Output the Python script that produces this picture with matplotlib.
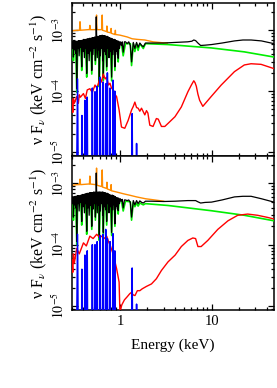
import numpy as np
import matplotlib
matplotlib.use("Agg")
import matplotlib.pyplot as plt
from matplotlib.ticker import LogLocator, NullFormatter, FixedLocator, FixedFormatter

plt.rcParams['font.family'] = ['Liberation Serif', 'DejaVu Serif']
plt.rcParams['mathtext.fontset'] = 'stix'

# ---------------- data (energies in keV, flux as log10 of nu F_nu) ----------------
# ---- top panel ----
top_black_E = [0.300, 0.304, 0.308, 0.311, 0.315, 0.320, 0.325, 0.330, 0.334, 0.338, 0.343,
               0.348, 0.353, 0.359, 0.365, 0.371, 0.377, 0.383, 0.389, 0.396, 0.403, 0.410,
               0.417, 0.424, 0.429, 0.434, 0.440, 0.447, 0.454, 0.462, 0.470, 0.478, 0.486,
               0.493, 0.500, 0.508, 0.516, 0.524, 0.532, 0.540, 0.548, 0.552, 0.557, 0.566,
               0.575, 0.583, 0.590, 0.596, 0.603, 0.612, 0.620, 0.630, 0.640, 0.650, 0.654,
               0.659, 0.668, 0.678, 0.688, 0.698, 0.708, 0.717, 0.727, 0.738, 0.749, 0.760,
               0.772, 0.785, 0.798, 0.812, 0.826, 0.840, 0.853, 0.866, 0.875, 0.882, 0.895,
               0.910, 0.925, 0.940, 0.950, 0.958, 0.970, 0.990, 1.010, 1.040, 1.060, 1.086,
               1.120, 1.150, 1.200, 1.250, 1.300, 1.340, 1.400, 1.456, 1.520, 1.580, 1.650,
               1.730, 1.800, 1.900, 2.200, 3.000, 4.000, 5.500, 6.100, 6.400, 6.700, 7.100,
               7.600, 8.500, 10.00, 13.00, 17.80, 22.00, 27.00, 35.00, 48.00]
top_black_F = [-3.19, -3.30, -3.19, -3.44, -3.19, -3.32, -3.18, -3.38, -3.18, -3.96, -3.18,
               -3.30, -3.17, -3.42, -3.17, -3.28, -3.17, -3.60, -3.16, -3.35, -3.15, -3.45,
               -3.15, -3.30, -3.15, -3.71, -3.14, -3.38, -3.14, -3.50, -3.13, -3.34, -3.13,
               -3.66, -3.12, -3.40, -3.12, -3.30, -3.11, -3.50, -3.10, -2.78, -3.10, -3.45,
               -3.10, -3.32, -3.10, -3.87, -3.09, -3.42, -3.09, -3.30, -3.08, -3.50, -3.09,
               -3.77, -3.09, -3.35, -3.09, -3.40, -3.10, -3.60, -3.10, -3.30, -3.11, -3.45,
               -3.12, -3.35, -3.13, -3.77, -3.14, -3.40, -3.15, -3.32, -3.15, -3.60, -3.16,
               -3.35, -3.17, -3.40, -3.18, -3.46, -3.18, -3.30, -3.19, -3.25, -3.19, -3.36,
               -3.19, -3.19, -3.22, -3.19, -3.25, -3.52, -3.20, -3.30, -3.20, -3.28, -3.21,
               -3.25, -3.27, -3.21, -3.21, -3.21, -3.20, -3.19, -3.18, -3.16, -3.17, -3.21,
               -3.25, -3.245, -3.235, -3.21, -3.175, -3.16, -3.16, -3.175, -3.22]

top_green_E = [0.300, 0.305, 0.311, 0.318, 0.325, 0.331, 0.338, 0.346, 0.355, 0.370, 0.376,
               0.383, 0.392, 0.405, 0.420, 0.427, 0.434, 0.446, 0.460, 0.480, 0.493, 0.505,
               0.530, 0.540, 0.560, 0.585, 0.596, 0.610, 0.640, 0.659, 0.672, 0.700, 0.717,
               0.735, 0.790, 0.812, 0.830, 0.862, 0.882, 0.900, 0.940, 0.958, 0.980, 1.040,
               1.086, 1.150, 1.300, 1.340, 1.400, 1.456, 1.520, 1.580, 1.650, 1.800, 1.900,
               3.350, 9.900, 22.80, 48.00]
top_green_F = [-3.21, -3.28, -3.50, -3.26, -3.21, -3.34, -4.02, -3.30, -3.20, -3.20, -3.30,
               -3.66, -3.24, -3.20, -3.20, -3.45, -3.77, -3.22, -3.20, -3.20, -3.72, -3.21,
               -3.20, -3.56, -3.20, -3.20, -3.93, -3.20, -3.20, -3.83, -3.20, -3.20, -3.66,
               -3.20, -3.20, -3.83, -3.20, -3.20, -3.66, -3.21, -3.21, -3.52, -3.21, -3.22,
               -3.42, -3.22, -3.22, -3.58, -3.22, -3.35, -3.22, -3.33, -3.22, -3.30, -3.22,
               -3.235, -3.29, -3.355, -3.44]

top_orange_E = [0.300, 0.340, 0.362, 0.367, 0.372, 0.450, 0.465, 0.470, 0.475, 0.545, 0.550,
                0.556, 0.562, 0.630, 0.635, 0.641, 0.647, 0.710, 0.716, 0.721, 0.727, 0.790,
                0.796, 0.802, 0.808, 0.880, 0.886, 0.892, 0.898, 1.000, 1.200, 1.360, 1.550,
                1.870, 2.300, 2.900, 3.300]
top_orange_F = [-3.01, -3.00, -3.00, -2.86, -3.00, -2.99, -2.99, -2.92, -2.99, -2.99, -2.99,
                -2.75, -2.99, -2.99, -2.99, -2.75, -3.00, -3.02, -3.02, -2.93, -3.03, -3.04,
                -3.04, -2.97, -3.05, -3.07, -3.07, -3.00, -3.07, -3.08, -3.11, -3.14, -3.15,
                -3.16, -3.19, -3.205, -3.21]

top_red_E = [0.300, 0.306, 0.311, 0.318, 0.338, 0.352, 0.360, 0.370, 0.400, 0.420, 0.440,
             0.470, 0.500, 0.535, 0.560, 0.606, 0.630, 0.659, 0.690, 0.717, 0.750, 0.779,
             0.810, 0.846, 0.880, 0.920, 0.980, 1.040, 1.130, 1.230, 1.340, 1.400, 1.456,
             1.520, 1.580, 1.650, 1.720, 1.870, 1.950, 2.020, 2.120, 2.300, 2.420, 2.500,
             2.620, 2.840, 3.090, 3.350, 3.990, 4.680, 5.520, 6.020, 6.400, 6.600, 6.820,
             7.100, 7.410, 8.030, 9.890, 12.74, 17.77, 22.78, 26.98, 34.70, 48.00]
top_red_F = [-4.15, -4.35, -4.12, -4.20, -4.09, -4.20, -4.06, -4.10, -4.04, -4.12, -3.98,
             -3.96, -4.02, -3.90, -3.95, -3.79, -3.85, -3.72, -3.80, -3.77, -3.90, -3.87,
             -3.95, -3.98, -4.05, -4.09, -4.31, -4.59, -4.61, -4.48, -4.31, -4.25, -4.18,
             -4.27, -4.28, -4.33, -4.28, -4.39, -4.32, -4.36, -4.56, -4.58, -4.50, -4.45,
             -4.46, -4.58, -4.58, -4.53, -4.42, -4.26, -4.01, -3.90, -3.83, -3.86, -3.92,
             -4.05, -4.15, -4.25, -4.09, -3.90, -3.68, -3.57, -3.55, -3.56, -3.63]

top_blue_E = [0.335, 0.345, 0.352, 0.380, 0.385, 0.390, 0.410, 0.415, 0.420, 0.435, 0.440,
              0.446, 0.493, 0.500, 0.507, 0.528, 0.535, 0.542, 0.558, 0.565, 0.572, 0.602,
              0.610, 0.618, 0.647, 0.655, 0.663, 0.692, 0.700, 0.708, 0.722, 0.730, 0.738,
              0.770, 0.780, 0.790, 0.830, 0.840, 0.850, 0.872, 0.880, 0.888, 1.340, 1.360,
              1.380, 1.500, 1.520, 1.540]
top_blue_F = [-6, -3.80, -6, -6, -4.40, -6, -6, -4.15, -6, -6, -4.10,
              -6, -6, -3.95, -6, -6, -4.01, -6, -6, -3.92, -6, -6,
              -3.77, -6, -6, -3.85, -6, -6, -3.88, -6, -6, -3.70, -6,
              -6, -3.95, -6, -6, -3.82, -6, -6, -4.00, -6, -6, -4.37,
              -6, -6, -4.86, -6]

# ---- bottom panel ----
bot_black_E = top_black_E
bot_black_F = [-3.22, -3.33, -3.22, -3.55, -3.22, -3.35, -3.21, -3.40, -3.21, -3.945, -3.20,
               -3.33, -3.20, -3.45, -3.20, -3.31, -3.19, -3.62, -3.18, -3.38, -3.18, -3.48,
               -3.17, -3.33, -3.17, -3.78, -3.16, -3.40, -3.16, -3.52, -3.15, -3.36, -3.15,
               -3.70, -3.15, -3.42, -3.14, -3.33, -3.14, -3.55, -3.14, -2.83, -3.14, -3.48,
               -3.14, -3.35, -3.14, -3.88, -3.14, -3.45, -3.14, -3.33, -3.14, -3.52, -3.14,
               -3.80, -3.15, -3.38, -3.15, -3.43, -3.16, -3.62, -3.16, -3.33, -3.17, -3.48,
               -3.18, -3.38, -3.19, -3.80, -3.19, -3.43, -3.20, -3.35, -3.21, -3.66, -3.22,
               -3.38, -3.23, -3.42, -3.24, -3.445, -3.24, -3.33, -3.25, -3.29, -3.26, -3.40,
               -3.27, -3.27, -3.28, -3.27, -3.31, -3.55, -3.28, -3.35, -3.28, -3.33, -3.285,
               -3.31, -3.32, -3.29, -3.29, -3.295, -3.29, -3.28, -3.28, -3.28, -3.28, -3.30,
               -3.32, -3.31, -3.305, -3.27, -3.22, -3.21, -3.21, -3.25, -3.305]

bot_green_E = top_green_E
bot_green_F = [-3.25, -3.32, -3.60, -3.30, -3.25, -3.38, -4.00, -3.33, -3.24, -3.24, -3.33,
               -3.68, -3.27, -3.24, -3.24, -3.50, -3.83, -3.26, -3.24, -3.24, -3.75, -3.25,
               -3.25, -3.60, -3.25, -3.25, -3.93, -3.25, -3.26, -3.85, -3.26, -3.26, -3.68,
               -3.26, -3.27, -3.85, -3.27, -3.27, -3.70, -3.28, -3.28, -3.50, -3.28, -3.29,
               -3.45, -3.29, -3.30, -3.60, -3.31, -3.38, -3.32, -3.37, -3.32, -3.35, -3.33,
               -3.36, -3.445, -3.52, -3.61]

bot_orange_E = [0.300, 0.340, 0.362, 0.367, 0.372, 0.450, 0.465, 0.470, 0.475, 0.545, 0.550,
                0.556, 0.562, 0.630, 0.635, 0.641, 0.647, 0.710, 0.716, 0.721, 0.727, 0.790,
                0.796, 0.802, 0.808, 0.920, 1.100, 1.300, 1.520, 1.900, 2.400, 3.000]
bot_orange_F = [-3.03, -3.02, -3.02, -2.93, -3.02, -3.01, -3.01, -2.88, -3.01, -3.02, -3.02,
                -2.75, -3.03, -3.05, -3.05, -2.78, -3.06, -3.08, -3.08, -2.98, -3.09, -3.11,
                -3.11, -3.02, -3.12, -3.14, -3.17, -3.195, -3.22, -3.25, -3.27, -3.29]

bot_red_E = [0.300, 0.306, 0.311, 0.318, 0.338, 0.360, 0.400, 0.430, 0.470, 0.510, 0.558,
             0.600, 0.630, 0.670, 0.717, 0.750, 0.780, 0.850, 0.920, 0.980, 1.000, 1.050,
             1.120, 1.200, 1.280, 1.330, 1.400, 1.460, 1.550, 1.650, 1.750, 1.950, 2.210,
             2.500, 2.840, 3.350, 4.000, 4.680, 5.520, 6.250, 6.700, 7.100, 7.700, 9.100,
             11.70, 15.10, 19.30, 24.80, 31.80, 41.00, 48.00]
bot_red_F = [-4.25, -4.45, -4.15, -4.30, -4.06, -4.15, -3.97, -4.02, -3.86, -3.90, -3.83,
             -3.88, -3.86, -3.90, -3.86, -3.95, -4.00, -4.17, -4.39, -4.61, -5.10, -4.98,
             -4.90, -4.85, -4.80, -4.78, -4.82, -4.83, -4.75, -4.75, -4.72, -4.68, -4.64,
             -4.555, -4.42, -4.28, -4.17, -4.03, -3.93, -3.89, -3.90, -4.03, -4.03, -3.93,
             -3.75, -3.61, -3.52, -3.50, -3.52, -3.555, -3.58]

bot_blue_E = top_blue_E
bot_blue_F = [-6, -3.83, -6, -6, -4.40, -6, -6, -4.17, -6, -6, -4.10,
              -6, -6, -4.00, -6, -6, -4.00, -6, -6, -3.95, -6, -6,
              -3.85, -6, -6, -3.83, -6, -6, -3.75, -6, -6, -3.90, -6,
              -6, -3.95, -6, -6, -3.82, -6, -6, -4.10, -6, -6, -4.38,
              -6, -6, -4.97, -6]

x_ticks = [1, 10]
x_ticklabels = ["1", "10"]
y_ticks = [1e-5, 1e-4, 1e-3]
y_ticklabels = [r"$10^{-5}$", r"$10^{-4}$", r"$10^{-3}$"]

C_BLACK = "#000000"
C_GREEN = "#00ee00"
C_ORANGE = "#ff8c00"
C_RED = "#ff0000"
C_BLUE = "#0000ff"

fig = plt.figure(figsize=(2.77, 3.88), dpi=100)
ax1 = fig.add_axes([0.2599, 0.5979, 0.7292, 0.3943])
ax2 = fig.add_axes([0.2599, 0.2010, 0.7292, 0.3969])

panels = [
    (ax1, top_orange_E, top_orange_F, top_green_E, top_green_F, top_black_E, top_black_F,
     top_red_E, top_red_F, top_blue_E, top_blue_F),
    (ax2, bot_orange_E, bot_orange_F, bot_green_E, bot_green_F, bot_black_E, bot_black_F,
     bot_red_E, bot_red_F, bot_blue_E, bot_blue_F),
]

def lin(v):
    return 10.0 ** np.asarray(v, dtype=float)

for (ax, oE, oF, gE, gF, kE, kF, rE, rF, bE, bF) in panels:
    ax.set_xscale('log')
    ax.set_yscale('log')
    ax.plot(oE, lin(oF), color=C_ORANGE, lw=1.0, zorder=2)
    ax.plot(gE, lin(gF), color=C_GREEN, lw=1.2, zorder=3)
    ax.plot(kE, lin(kF), color=C_BLACK, lw=0.9, zorder=4)
    ax.plot(rE, lin(rF), color=C_RED, lw=1.0, zorder=5)
    ax.plot(bE, lin(bF), color=C_BLUE, lw=1.1, zorder=6)
    ax.set_xlim(0.3, 48)
    ax.set_ylim(8.6e-6, 2.8e-3)
    ax.tick_params(which='both', direction='in', top=True, right=True, width=0.9)
    ax.tick_params(which='major', length=4.3)
    ax.tick_params(which='minor', length=2.2)
    ax.xaxis.set_major_locator(FixedLocator(x_ticks))
    ax.xaxis.set_minor_locator(LogLocator(base=10, subs=np.arange(2, 10), numticks=20))
    ax.xaxis.set_minor_formatter(NullFormatter())
    ax.yaxis.set_major_locator(FixedLocator(y_ticks))
    ax.yaxis.set_major_formatter(FixedFormatter(y_ticklabels))
    ax.yaxis.set_minor_locator(LogLocator(base=10, subs=np.arange(2, 10), numticks=20))
    ax.yaxis.set_minor_formatter(NullFormatter())
    for lab in ax.get_yticklabels():
        lab.set_rotation(90)
        lab.set_va('center')
        lab.set_fontsize(10)
    for s in ax.spines.values():
        s.set_linewidth(1.1)
    ax.set_ylabel(r"ν F$_{\nu}$ (keV cm$^{-2}$ s$^{-1}$)", fontsize=11.5, labelpad=1)

ax1.xaxis.set_major_formatter(NullFormatter())
ax2.xaxis.set_major_formatter(FixedFormatter(x_ticklabels))
for lab in ax2.get_xticklabels():
    lab.set_fontsize(10.5)
ax2.set_xlabel("Energy (keV)", fontsize=11, labelpad=8)

fig.savefig("out.png", dpi=100)
